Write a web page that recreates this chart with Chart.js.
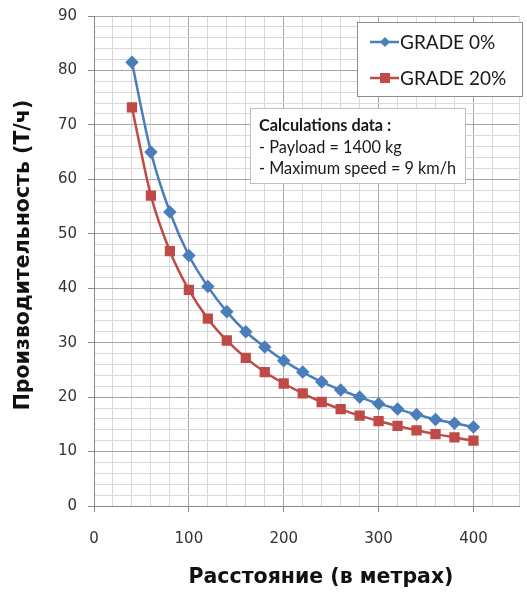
<!DOCTYPE html>
<html>
<head>
<meta charset="utf-8">
<script src="https://cdn.jsdelivr.net/npm/chart.js@4.4.1/dist/chart.umd.min.js"></script>
<style>
  html, body { margin: 0; padding: 0; background: #fff; }
  #wrap { width: 527px; height: 594px; position: relative; }
</style>
</head>
<body>
<div id="wrap"><canvas id="chart" width="527" height="594"></canvas></div>
<script>
/* Productivity vs haul distance, two grades. */

const distances = [40, 60, 80, 100, 120, 140, 160, 180, 200, 220, 240, 260, 280, 300, 320, 340, 360, 380, 400];
const grade0 = [81.5, 65, 54, 46, 40.3, 35.7, 32, 29.2, 26.7, 24.6, 22.8, 21.3, 20, 18.8, 17.8, 16.8, 15.9, 15.2, 14.5];
const grade20 = [73.2, 57, 46.8, 39.7, 34.4, 30.4, 27.2, 24.6, 22.5, 20.7, 19.1, 17.8, 16.6, 15.6, 14.7, 13.9, 13.2, 12.6, 12.0];
const seriesNames = ['GRADE 0%', 'GRADE 20%'];
const noteLines = ['Calculations data :', '- Payload = 1400 kg', '- Maximum speed = 9 km/h'];
const xTitle = 'Расстояние (в метрах)';
const yTitle = 'Производительность (Т/ч)';

const COL = { blue: '#4a7ebb', red: '#be4b48', major: '#a6a6a6', minor: '#d9d9d9', text: '#333' };

const pts = (ys) => distances.map((x, i) => ({ x, y: ys[i] }));

// legend box, note box and both axis titles drawn in pixel space
const decor = {
    id: 'decor',
    afterDraw(chart) {
        const c = chart.ctx;
        c.save();
        /* ---- legend ---- */
        c.fillStyle = '#fff';
        c.fillRect(357, 22, 166, 74);
        c.strokeStyle = '#8c8c8c';
        c.lineWidth = 1;
        c.strokeRect(357.5, 22.5, 165, 74);
        chart.data.datasets.forEach((ds, i) => {
            const y = 42 + i * 36;
            c.strokeStyle = ds.borderColor;
            c.lineWidth = 2.5;
            c.beginPath(); c.moveTo(370, y); c.lineTo(399, y); c.stroke();
            c.fillStyle = ds.borderColor;
            if (ds.pointStyle === 'rectRot') {
                c.beginPath();
                c.moveTo(385, y - 5); c.lineTo(390, y); c.lineTo(385, y + 5); c.lineTo(380, y);
                c.closePath(); c.fill();
            } else {
                c.fillRect(380, y - 5, 10, 10);
            }
            c.fillStyle = '#1a1a1a';
            c.font = '19px Lato';
            c.textBaseline = 'middle';
            c.fillText(ds.label, 400, y + 1);
        });
        /* ---- note ---- */
        c.fillStyle = '#fff';
        c.fillRect(250, 108, 216, 76);
        c.strokeStyle = '#bfbfbf';
        c.lineWidth = 1;
        c.strokeRect(250.5, 108.5, 215, 75);
        c.fillStyle = '#1a1a1a';
        c.textBaseline = 'alphabetic';
        noteLines.forEach((t, i) => {
            c.font = (i === 0 ? 'bold ' : '') + '16.3px Lato';
            c.fillText(t, 259, 131 + i * 21.5);
        });
        /* ---- axis titles ---- */
        c.fillStyle = '#111';
        c.font = 'bold 20.5px "DejaVu Sans"';
        c.textAlign = 'center';
        c.textBaseline = 'middle';
        c.fillText(xTitle, 321, 578);
        c.translate(24, 255);
        c.rotate(-Math.PI / 2);
        c.fillText(yTitle, 0, 0);
        c.restore();
    },
};

new Chart(document.getElementById('chart'), {
    type: 'scatter',
    data: {
        datasets: [
            { label: seriesNames[0], data: pts(grade0), showLine: true,
              borderColor: COL.blue, backgroundColor: COL.blue, borderWidth: 2.5,
              pointStyle: 'rectRot', pointRadius: 5, pointHoverRadius: 5,
              cubicInterpolationMode: 'monotone' },
            { label: seriesNames[1], data: pts(grade20), showLine: true,
              borderColor: COL.red, backgroundColor: COL.red, borderWidth: 2.5,
              pointStyle: 'rect', pointRadius: 5.5, pointHoverRadius: 5.5,
              cubicInterpolationMode: 'monotone' },
        ],
    },
    options: {
        responsive: false,
        animation: false,
        layout: { padding: { top: 16, right: 0, left: 0, bottom: 0 } },
        plugins: { legend: { display: false }, tooltip: { enabled: false } },
        scales: {
            x: {
                type: 'linear', min: 0, max: 448,
                afterFit: (s) => { s.height = 88; s.paddingLeft = 0; s.paddingRight = 0; },
                ticks: {
                    stepSize: 20, autoSkip: false, maxRotation: 0, padding: 18,
                    color: COL.text, font: { family: 'DejaVu Sans', size: 15 },
                    callback: (v) => (v % 100 === 0 ? v : ''),
                },
                grid: {
                    color: (c) => (c.tick && c.tick.value % 100 === 0 ? COL.major : COL.minor),
                    tickColor: (c) => (c.tick && c.tick.value % 100 === 0 ? '#888' : 'transparent'),
                    tickLength: 6,
                },
                border: { color: '#888' },
            },
            y: {
                min: 0, max: 90,
                afterFit: (s) => { s.width = 94; s.paddingTop = 0; s.paddingBottom = 0; },
                ticks: {
                    stepSize: 2, autoSkip: false, padding: 11,
                    color: COL.text, font: { family: 'DejaVu Sans', size: 15 },
                    callback: (v) => (v % 10 === 0 ? v : ''),
                },
                grid: {
                    color: (c) => (c.tick && c.tick.value % 10 === 0 ? COL.major : COL.minor),
                    tickColor: (c) => (c.tick && c.tick.value % 10 === 0 ? '#888' : 'transparent'),
                    tickLength: 6,
                },
                border: { color: '#888' },
            },
        },
    },
    plugins: [decor],
});
</script>
</body>
</html>
